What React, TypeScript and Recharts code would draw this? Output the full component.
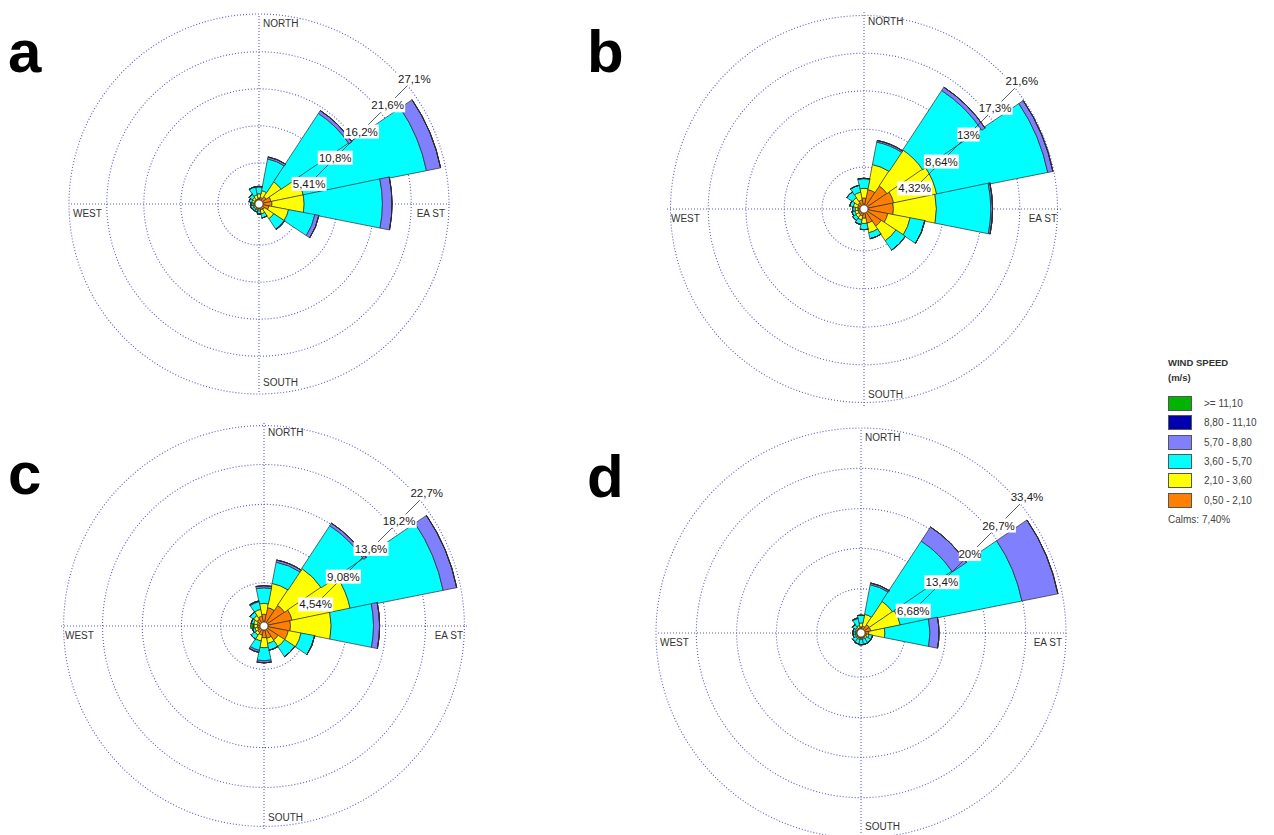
import { PolarAngleAxis, PolarGrid, PolarRadiusAxis, RadialBar, RadialBarChart } from "recharts"

const directions = ['N', 'NNE', 'NE', 'ENE', 'E', 'ESE', 'SE', 'SSE', 'S', 'SSW', 'SW', 'WSW', 'W', 'WNW', 'NW', 'NNW']

// speed classes, inner to outer
const bandKeys = ['s1', 's2', 's3', 's4', 's5', 's6']
const bandLabels = ['0,50 - 2,10', '2,10 - 3,60', '3,60 - 5,70', '5,70 - 8,80', '8,80 - 11,10', '>= 11,10']
const bandColors = ['#ff8000', '#ffff00', '#00ffff', '#8080ff', '#0000b0', '#00b400']

// panel a
const aTicks = [5.41, 10.8, 16.2, 21.6, 27.1]
const aS1 = [0.3, 0.4, 0.7, 1.2, 1.3, 0.9, 0.4, 0.3, 0.15, 0.1, 0.1, 0.1, 0.1, 0.1, 0.15, 0.15]
const aS2 = [0.6, 1.0, 2.6, 4.8, 4.7, 2.9, 1.6, 0.6, 0.3, 0.2, 0.2, 0.2, 0.2, 0.4, 0.4, 0.6]
const aS3 = [1.0, 4.7, 11.9, 18.3, 11.4, 3.9, 1.8, 0.6, 0.45, 0.3, 0.3, 0.4, 0.3, 0.4, 0.6, 1.2]
const aS4 = [0.1, 0.3, 0.5, 2.1, 1.4, 0.6, 0.1, 0, 0, 0, 0, 0, 0, 0, 0, 0.05]
const aS5 = [0, 0, 0, 0, 0, 0, 0, 0, 0, 0, 0, 0, 0, 0, 0, 0]
const aS6 = [0, 0, 0, 0, 0, 0, 0, 0, 0, 0, 0, 0, 0, 0, 0, 0]

// panel b
const bTicks = [4.32, 8.64, 13, 17.3, 21.6]
const bS1 = [0.8, 1.8, 2.7, 3.0, 2.9, 2.3, 1.9, 1.2, 0.6, 0.35, 0.3, 0.25, 0.25, 0.3, 0.4, 0.6]
const bS2 = [1.1, 2.9, 4.9, 5.0, 4.9, 2.6, 2.0, 1.1, 0.6, 0.45, 0.4, 0.35, 0.3, 0.5, 0.7, 0.9]
const bS3 = [1.1, 2.6, 8.1, 12.9, 6.2, 1.7, 1.3, 0.7, 0.7, 0.55, 0.4, 0.35, 0.3, 0.4, 0.8, 0.8]
const bS4 = [0.05, 0.2, 0.45, 0.6, 0.2, 0, 0, 0, 0, 0, 0, 0, 0, 0, 0, 0]
const bS5 = [0, 0, 0, 0, 0, 0, 0, 0, 0, 0, 0, 0, 0, 0, 0, 0]
const bS6 = [0, 0, 0, 0, 0, 0, 0, 0, 0, 0, 0, 0, 0, 0, 0, 0]

// panel c
const cTicks = [4.54, 9.08, 13.6, 18.2, 22.7]
const cS1 = [0.9, 1.7, 2.4, 2.85, 2.6, 2.4, 1.5, 1.0, 0.9, 0.6, 0.45, 0.3, 0.3, 0.35, 0.5, 0.7]
const cS2 = [1.25, 2.85, 5.1, 6.85, 4.7, 1.5, 0.9, 0.6, 1.15, 0.7, 0.35, 0.3, 0.4, 0.4, 0.5, 0.8]
const cS3 = [1.8, 2.5, 5.9, 10.95, 4.9, 1.6, 1.4, 0.8, 1.5, 1.1, 0.55, 0.3, 0.1, 0.3, 0.5, 0.9]
const cS4 = [0.25, 0.25, 0.35, 1.6, 0.7, 0, 0, 0, 0.25, 0.25, 0, 0, 0, 0, 0, 0.1]
const cS5 = [0, 0, 0, 0, 0, 0, 0, 0, 0, 0, 0, 0, 0, 0, 0, 0]
const cS6 = [0, 0, 0, 0, 0, 0, 0, 0, 0, 0, 0, 0, 0.3, 0, 0, 0]

// panel d
const dTicks = [6.68, 13.4, 20, 26.7, 33.4]
const dS1 = [0.35, 0.5, 1.0, 1.0, 0.65, 0.3, 0.2, 0.2, 0.2, 0.2, 0.2, 0.1, 0.1, 0.1, 0.15, 0.2]
const dS2 = [0.65, 2.0, 4.65, 5.0, 2.65, 0.4, 0.3, 0.2, 0.2, 0.2, 0.2, 0.2, 0.2, 0.2, 0.3, 0.4]
const dS3 = [1.3, 5.0, 11.95, 20.6, 7.5, 0.6, 0.8, 0.9, 0.9, 0.8, 0.7, 0.4, 0.4, 0.4, 0.6, 1.2]
const dS4 = [0, 0.3, 2.8, 6.1, 1.5, 0, 0, 0, 0, 0, 0, 0, 0, 0, 0, 0.1]
const dS5 = [0, 0, 0, 0, 0, 0, 0, 0, 0, 0, 0, 0, 0, 0, 0, 0]
const dS6 = [0, 0, 0, 0, 0, 0, 0, 0, 0, 0, 0, 0, 0, 0, 0, 0]

const calms = '7,40%'

const makeRows = (series: number[][]) =>
  directions.map((dir, i) => {
    const row: any = { dir }
    bandKeys.forEach((k, j) => { row[k] = series[j][i] })
    return row
  })

const fmt = (v: number) => String(v).replace('.', ',') + '%'

const FONT = '"Liberation Sans", Arial, sans-serif'
const GRID = '#5a5ac8'

function Rose({ cx, cy, R, ticks, series, letter, letterPos }) {
  const pad = 30
  const size = 2 * R + 2 * pad
  const c = size / 2
  const rows = makeRows(series)
  const step = (R - 4) / ticks.length

  const dirTick = (props) => {
    const v = props.payload.value
    const st = { fontSize: 10, fontFamily: FONT, fill: '#333' }
    if (v === 'N') return <text x={c + 4} y={c - R + 13} {...st}>NORTH</text>
    if (v === 'S') return <text x={c + 4} y={c + R - 8} {...st}>SOUTH</text>
    if (v === 'E') return <text x={c + R - 4} y={c + 13} textAnchor="end" {...st}>EA ST</text>
    if (v === 'W') return <text x={c - R + 4} y={c + 13} {...st}>WEST</text>
    return <g />
  }

  const ringTick = (props) => {
    const { x, y, payload, index } = props
    const lx = x + 21
    const ly = y + 9
    const txt = fmt(payload.value)
    const w = txt.length * 6.4 + 3
    const d = step / Math.SQRT2
    return (
      <g>
        {index > 0 && <line x1={lx - 6} y1={ly + 6} x2={lx - d + 7} y2={ly + d - 7} stroke="#333" strokeWidth={0.8} />}
        <rect x={lx - w / 2} y={ly - 7} width={w} height={14} fill="#fff" />
        <text x={lx} y={ly + 4} textAnchor="middle" fontSize={11.5} fontFamily={FONT} fill="#1a1a1a">{txt}</text>
      </g>
    )
  }

  return (
    <>
      <div style={{ position: 'absolute', left: cx - c, top: cy - c }}>
        <RadialBarChart
          width={size}
          height={size}
          cx={c}
          cy={c}
          data={rows}
          layout="centric"
          innerRadius={4}
          outerRadius={R}
          startAngle={78.75}
          endAngle={-281.25}
          barCategoryGap="0%"
          margin={{ top: 0, right: 0, bottom: 0, left: 0 }}
        >
          <PolarGrid gridType="circle" polarAngles={[0, 90, 180, 270]} stroke={GRID} strokeDasharray="1 2" strokeWidth={1.1} />
          <PolarAngleAxis dataKey="dir" type="category" axisLine={false} tickLine={false} tick={dirTick} />
          {bandKeys.map((k, j) => (
            <RadialBar key={k} dataKey={k} stackId="speed" fill={bandColors[j]} stroke="#2a2a2a" strokeWidth={0.7} isAnimationActive={false} />
          ))}
          <PolarRadiusAxis type="number" domain={[0, ticks[ticks.length - 1]]} ticks={ticks} angle={45} axisLine={false} tickLine={false} tick={ringTick} />
        </RadialBarChart>
      </div>
      <div style={{ position: 'absolute', left: letterPos[0], top: letterPos[1], fontFamily: FONT, fontWeight: 700, fontSize: 60, lineHeight: '60px', color: '#000' }}>
        {letter}
      </div>
    </>
  )
}

function WindLegend() {
  const order = [5, 4, 3, 2, 1, 0]
  return (
    <div style={{ position: 'absolute', left: 1168, top: 357, fontFamily: FONT, color: '#444', fontSize: 10 }}>
      <div style={{ fontWeight: 700, color: '#333', fontSize: 9.5, lineHeight: '12px' }}>WIND SPEED</div>
      <div style={{ fontWeight: 700, color: '#333', fontSize: 9.5, lineHeight: '12px', marginTop: 3 }}>(m/s)</div>
      <div style={{ marginTop: 10 }}>
        {order.map((j) => (
          <div key={j} style={{ display: 'flex', alignItems: 'center', height: 19.3 }}>
            <div style={{ width: 22, height: 13, background: bandColors[j], border: '1px solid #555', marginRight: 12 }} />
            <span>{bandLabels[j]}</span>
          </div>
        ))}
      </div>
      <div style={{ marginTop: 4 }}>Calms: {calms}</div>
    </div>
  )
}

export default function App() {
  return (
    <div style={{ position: 'absolute', left: 0, top: 0, width: 1274, height: 835, overflow: 'hidden', background: '#fff' }}>
      <Rose cx={259} cy={204} R={190} ticks={aTicks} series={[aS1, aS2, aS3, aS4, aS5, aS6]} letter="a" letterPos={[8, 22]} />
      <Rose cx={864} cy={209} R={197} ticks={bTicks} series={[bS1, bS2, bS3, bS4, bS5, bS6]} letter="b" letterPos={[587, 22]} />
      <Rose cx={264} cy={626} R={203} ticks={cTicks} series={[cS1, cS2, cS3, cS4, cS5, cS6]} letter="c" letterPos={[8, 444]} />
      <Rose cx={861} cy={633} R={205} ticks={dTicks} series={[dS1, dS2, dS3, dS4, dS5, dS6]} letter="d" letterPos={[587, 447]} />
      <WindLegend />
    </div>
  )
}
